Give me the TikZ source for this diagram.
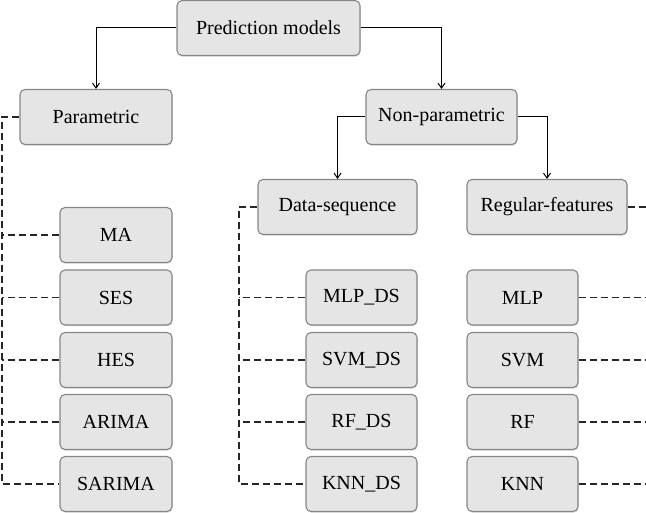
\documentclass[tikz,border=0pt]{standalone}
\usepackage{fontspec}
\setmainfont{Liberation Serif}
\newfontfamily\boxfont{Liberation Serif}
\usetikzlibrary{arrows.meta,shadows}
\begin{document}
\begin{tikzpicture}[x=1pt,y=-1pt,
  box/.style={draw=gray!95, line width=1.1pt, rounded corners=5pt, fill=gray!20,
    minimum height=55pt, inner sep=0pt, font=\boxfont\fontsize{20}{23}\selectfont,
    drop shadow={opacity=0.3, shadow xshift=0.6pt, shadow yshift=-1.2pt}},
  arr/.style={draw=black, line width=1pt, -{Straight Barb[length=5pt,width=7pt]}},
  dsh/.style={draw=black!85, line width=1.2pt, dash pattern=on 7pt off 4pt}]
\useasboundingbox (0,0) rectangle (646,513);
% top
\node[box, minimum width=183pt] (pm) at (268.5,28) {Prediction models};
\node[box, minimum width=152pt] (par) at (96,117) {Parametric};
\node[box, minimum width=151pt] (np) at (441.5,117) {Non-parametric};
\node[box, minimum width=159pt] (ds) at (337.5,207) {Data-sequence};
\node[box, minimum width=160pt] (rf) at (547,207) {Regular-features};
% parametric models
\node[box, minimum width=112pt] (ma) at (116,235) {MA};
\node[box, minimum width=112pt] (ses) at (116,297.5) {SES};
\node[box, minimum width=112pt] (hes) at (116,360) {HES};
\node[box, minimum width=112pt] (arima) at (116,422) {ARIMA};
\node[box, minimum width=112pt] (sarima) at (116,484) {SARIMA};
% data-sequence models
\node[box, minimum width=111pt] (mlpds) at (361.5,297.5) {MLP\_DS};
\node[box, minimum width=111pt] (svmds) at (361.5,360) {SVM\_DS};
\node[box, minimum width=111pt] (rfds) at (361.5,422) {RF\_DS};
\node[box, minimum width=111pt] (knnds) at (361.5,484) {KNN\_DS};
% regular-feature models
\node[box, minimum width=111pt] (mlp) at (522.5,297.5) {MLP};
\node[box, minimum width=111pt] (svm) at (522.5,360) {SVM};
\node[box, minimum width=111pt] (rfm) at (522.5,422) {RF};
\node[box, minimum width=111pt] (knn) at (522.5,484) {KNN};
% arrows
\draw[arr] (pm.west) -| (par.north);
\draw[arr] (pm.east) -| (np.north);
\draw[arr] (np.west) -| (ds.north);
\draw[arr] (np.east) -| (rf.north);
% dashed trees
\coordinate (lp) at (2,117);
\draw[dsh] (par.west) -- (lp) |- (sarima.west);
\foreach \n in {ma,ses,hes,arima} \draw[dsh] (\n.west) -- (\n.west -| lp);
\coordinate (lq) at (239,207);
\draw[dsh] (ds.west) -- (lq) |- (knnds.west);
\foreach \n in {mlpds,svmds,rfds} \draw[dsh] (\n.west) -- (\n.west -| lq);
\coordinate (rp) at (646,207);
\draw[dsh] (rf.east) -- (rp);
\foreach \n in {mlp,svm,rfm,knn} \draw[dsh] (\n.east) -- (\n.east -| rp);
\end{tikzpicture}
\end{document}
